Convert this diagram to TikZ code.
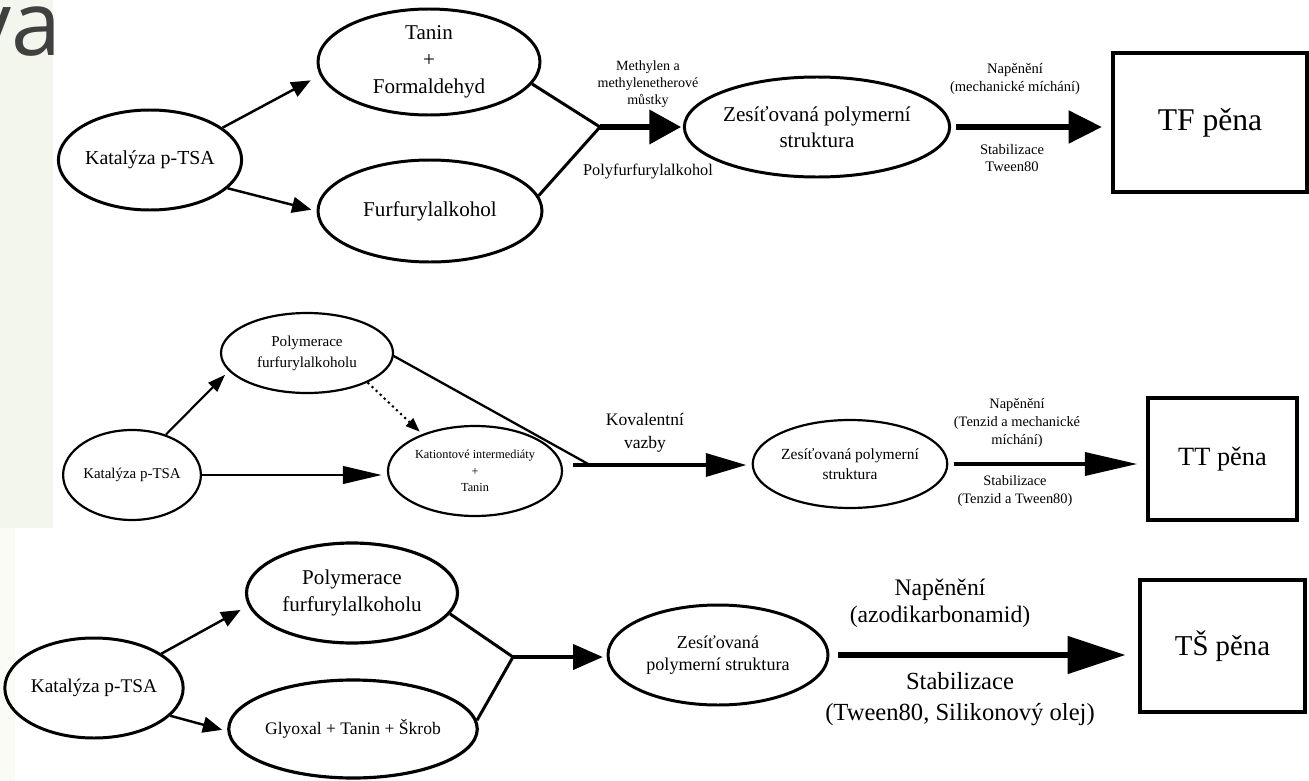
\documentclass[tikz,border=0pt]{standalone}
\usepackage{fontspec}
\setmainfont{Liberation Serif}
\newfontfamily\vafont{Open Sans}
\usetikzlibrary{arrows.meta,shapes}
\definecolor{slidegreen}{HTML}{F3F6EC}
\definecolor{slidecream}{HTML}{FBFBF6}
\definecolor{titlegray}{HTML}{404040}

\begin{document}
\begin{tikzpicture}[x=0.02cm, y=-0.02cm, line join=miter]

    \def\pxu{0.02cm}
    \tikzstyle{oval}=[draw, ellipse, inner sep=0pt, align=center]
    \tikzstyle{foam}=[draw, rectangle, inner sep=0pt]
    \tikzstyle{lbl}=[align=center, inner sep=0pt]
    \tikzstyle{feed}=[line width=1.4pt, -{Triangle[length=11pt,width=9pt]}]
    \tikzstyle{merge}=[line width=1.7pt]

    \useasboundingbox (0,0) rectangle (1309,781);
    \fill[slidegreen] (0,0) rectangle (53,528);
    \fill[slidecream] (0,528) rectangle (15,781);
    \node[anchor=base east, inner sep=0pt, text=titlegray,
          font=\vafont\fontsize{51}{51}\selectfont] (title) at (62,55) {va};

    % TF pena
    \node[oval, line width=1.7pt, minimum width=156*\pxu, minimum height=100*\pxu,
          font=\fontsize{11.3}{13}\selectfont] (katTF) at (150,160) {Katalýza p-TSA};
    \node[oval, line width=1.7pt, minimum width=222*\pxu, minimum height=106*\pxu,
          font=\fontsize{12}{15.3}\selectfont] (taninTF) at (429,62) {Tanin\\+\\Formaldehyd};
    \node[oval, line width=1.7pt, minimum width=224*\pxu, minimum height=102*\pxu,
          font=\fontsize{12}{15}\selectfont] (furTF) at (430,211) {Furfurylalkohol};
    \node[oval, line width=1.7pt, minimum width=240*\pxu, minimum height=100*\pxu,
          font=\fontsize{12}{15}\selectfont] (polyTF) at (817,127) {Zesíťovaná polymerní\\struktura};
    \node[foam, line width=2.5pt, minimum width=194*\pxu, minimum height=139*\pxu,
          font=\fontsize{18}{20}\selectfont] (penaTF) at (1210,122.5) {TF pěna};
    \coordinate (jTF) at (600,127);

    \node[lbl, font=\fontsize{8}{9.8}\selectfont] (bridgeTF) at (648,84) {Methylen a\\methylenetherové\\můstky};
    \node[lbl, font=\fontsize{9.3}{11}\selectfont] (pfaTF) at (648,172) {Polyfurfurylalkohol};
    \node[lbl, font=\fontsize{8.3}{10}\selectfont] (foamTF) at (1015,79) {Napěnění\\(mechanické míchání)};
    \node[lbl, font=\fontsize{8.3}{10}\selectfont] (stabTF) at (1012,158) {Stabilizace\\Tween80};

    \draw[feed, shorten >=6pt] (katTF.24) -- (taninTF.187);
    \draw[feed, shorten >=3pt] (katTF.-20) -- (furTF.180);
    \draw[merge] (taninTF.-12) -- (jTF) -- (furTF.8);
    \draw[line width=3pt, -{Triangle[length=18pt,width=19pt]}, shorten >=1pt] (jTF) -- (polyTF.west);
    \draw[line width=3.5pt, -{Triangle[length=19pt,width=18pt]}, shorten <=3pt, shorten >=5pt]
        (polyTF.east) -- (polyTF.east -| penaTF.west);

    % TT pena
    \node[oval, line width=1.25pt, minimum width=130*\pxu, minimum height=90*\pxu,
          font=\fontsize{8.5}{10}\selectfont] (katTT) at (132,475) {Katalýza p-TSA};
    \node[oval, line width=1.25pt, minimum width=172*\pxu, minimum height=80*\pxu,
          font=\fontsize{8.6}{12}\selectfont] (furTT) at (307,353) {Polymerace\\furfurylalkoholu};
    \node[oval, line width=1.25pt, minimum width=174*\pxu, minimum height=90*\pxu,
          font=\fontsize{7}{9.4}\selectfont] (katioTT) at (475,471) {Kationtové intermediáty\\+\\Tanin};
    \node[oval, line width=1.25pt, minimum width=180*\pxu, minimum height=88*\pxu,
          font=\fontsize{8.8}{11.5}\selectfont] (polyTT) at (850,464) {Zesíťovaná polymerní\\struktura};
    \node[foam, line width=2pt, minimum width=149*\pxu, minimum height=122*\pxu,
          font=\fontsize{15}{17}\selectfont] (penaTT) at (1222.5,459) {TT pěna};
    \coordinate (jTT) at (590,465);
    \coordinate (jTTs) at (573,465);

    \node[lbl, font=\fontsize{10}{13}\selectfont] (covTT) at (645,433) {Kovalentní\\vazby};
    \node[lbl, font=\fontsize{8.2}{10.5}\selectfont] (foamTT) at (1017,423) {Napěnění\\(Tenzid a mechanické\\míchání)};
    \node[lbl, font=\fontsize{8.2}{10.5}\selectfont] (stabTT) at (1015,491) {Stabilizace\\(Tenzid a Tween80)};

    \draw[line width=1.2pt, -{Triangle[length=10pt,width=7pt]}, shorten >=3pt] (katTT.50) -- (furTT.193);
    \draw[line width=1.3pt, -{Triangle[length=22pt,width=10pt]}, shorten >=3pt]
        (katTT.east) -- (katTT.east -| katioTT.west);
    \draw[line width=1.2pt, dotted, -{Triangle[length=8pt,width=6pt]}, shorten >=2pt] (furTT.-26) -- (katioTT.145);
    \draw[line width=1.3pt] (furTT.-2) -- (jTT);
    \draw[line width=2.2pt, -{Triangle[length=23pt,width=13pt]}, shorten >=3pt] (jTTs) -- (jTTs -| polyTT.west);
    \draw[line width=2.5pt, -{Triangle[length=30pt,width=13pt]}, shorten <=3pt, shorten >=5pt]
        (polyTT.east) -- (polyTT.east -| penaTT.west);

    % TS pena
    \node[oval, line width=1.7pt, minimum width=152*\pxu, minimum height=100*\pxu,
          font=\fontsize{11}{13}\selectfont] (katTS) at (94,688) {Katalýza p-TSA};
    \node[oval, line width=1.8pt, minimum width=211*\pxu, minimum height=100*\pxu,
          font=\fontsize{12}{15}\selectfont] (furTS) at (352,593) {Polymerace\\furfurylalkoholu};
    \node[oval, line width=1.8pt, minimum width=210*\pxu, minimum height=98*\pxu,
          font=\fontsize{10}{12}\selectfont] (glyTS) at (353,729) {Glyoxal + Tanin + Škrob};
    \node[oval, line width=1.7pt, minimum width=220*\pxu, minimum height=100*\pxu,
          font=\fontsize{10.3}{13}\selectfont] (polyTS) at (718,655) {Zesíťovaná\\polymerní struktura};
    \node[foam, line width=2.5pt, minimum width=165*\pxu, minimum height=132*\pxu,
          font=\fontsize{16.4}{18}\selectfont] (penaTS) at (1222.5,646) {TŠ pěna};
    \coordinate (jTS) at (513,657);

    \node[lbl, font=\fontsize{13.5}{15.3}\selectfont] (foamTS) at (940,603) {Napěnění\\(azodikarbonamid)};
    \node[lbl, font=\fontsize{14}{18}\selectfont] (stabTS) at (960,699) {Stabilizace\\(Tween80, Silikonový olej)};

    \draw[feed, shorten >=5pt] (katTS.27) -- (furTS.187);
    \draw[feed, shorten >=3pt] (katTS.-20) -- (glyTS.181);
    \draw[merge] (furTS.-12) -- (jTS) -- (glyTS.4);
    \draw[line width=2.8pt, -{Triangle[length=17pt,width=14pt]}, shorten >=2pt] (jTS) -- (jTS -| polyTS.west);
    \draw[line width=3pt, -{Triangle[length=33pt,width=21pt]}, shorten <=5pt, shorten >=7pt]
        (polyTS.east) -- (polyTS.east -| penaTS.west);

\end{tikzpicture}
\end{document}
